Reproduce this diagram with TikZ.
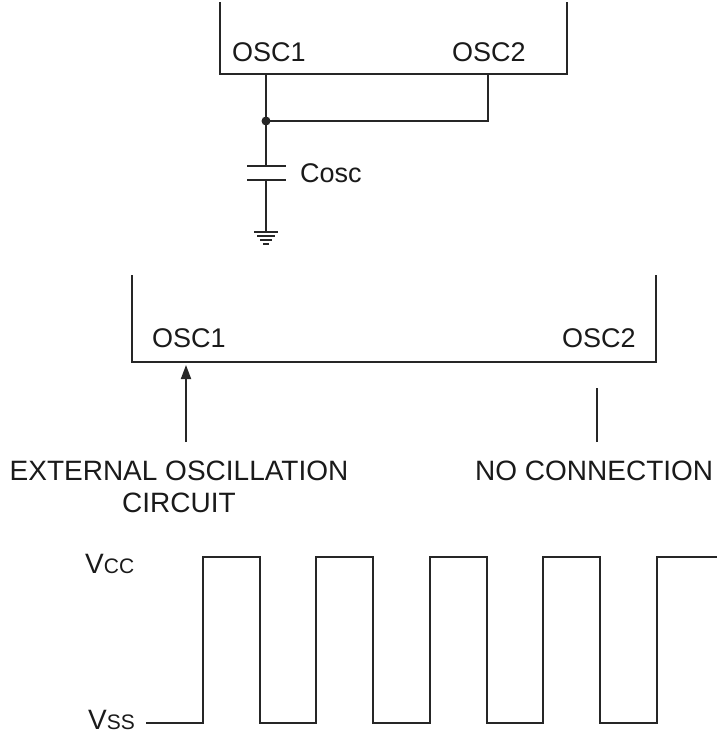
\documentclass[tikz,border=0pt]{standalone}
\usepackage{fontspec}
\setmainfont{Liberation Sans}
\usetikzlibrary{arrows.meta}
\definecolor{ink}{HTML}{262626}
\definecolor{txt}{HTML}{1A1A1A}
\tikzset{
  wire/.style={draw=ink, line width=1.8pt, line join=miter},
  thin wire/.style={draw=ink, line width=1.2pt},
  lbl/.style={text=txt, inner sep=0pt, font=\fontsize{27}{30}\selectfont, anchor=base west},
  biglbl/.style={text=txt, inner sep=0pt, font=\fontsize{28}{32}\selectfont},
  dotnode/.style={circle, fill=ink, inner sep=0pt, minimum size=9pt},
}
\begin{document}
\begin{tikzpicture}[x=1pt,y=-1pt]
\useasboundingbox (0,0) rectangle (717,734);

% ---- top chip ----
\coordinate (tbl) at (220,74);
\coordinate (tbr) at (567,74);
\draw[wire] (220,2) -- (tbl) -- (tbr) -- (567,2);
\node[lbl] (tosc1) at (232,61) {OSC1};
\node[lbl] (tosc2) at (452,61) {OSC2};
\coordinate (p1) at (266,74);
\coordinate (p2) at (488,74);
\node[dotnode] (junc) at (266,121) {};
\coordinate (jr) at (488,121);
\coordinate (capt) at (266,166);
\coordinate (capb) at (266,180);
\coordinate (gnd) at (266,232);
\draw[wire] (p1) -- (junc.center) -- (capt);
\draw[wire] (p2) -- (jr) -- (junc.center);
\draw[wire] (capb) -- (gnd);
\draw[wire] (247,166) -- (286,166);
\draw[wire] (247,180) -- (286,180);
\node[lbl] (cosc) at (300,182) {Cosc};
% ground
\draw[thin wire] (254,232) -- (278,232);
\draw[thin wire] (257,236) -- (275,236);
\draw[thin wire] (260,240) -- (272,240);
\draw[thin wire] (263,244) -- (269,244);

% ---- middle chip ----
\draw[wire] (132,275) -- (132,362) -- (656,362) -- (656,275);
\node[lbl] (mosc1) at (152,347) {OSC1};
\node[lbl] (mosc2) at (562,347) {OSC2};
\coordinate (arrtip) at (186,365);
\coordinate (arrtail) at (186,442);
\draw[wire, -{Triangle[length=14pt,width=10pt]}] (arrtail) -- (arrtip);
\coordinate (nctop) at (597,388);
\coordinate (ncbot) at (597,442);
\draw[wire] (ncbot) -- (nctop);
\node[biglbl, anchor=base] (ext) at (179,480) {EXTERNAL OSCILLATION};
\node[biglbl, anchor=base] (circ) at (179,512) {CIRCUIT};
\node[biglbl, anchor=base west] (nc) at (475,480) {NO CONNECTION};

% ---- waveform ----
\node[biglbl, anchor=base west] (vcc) at (85,573) {V{\fontsize{21}{24}\selectfont CC}};
\node[biglbl, anchor=base west] (vss) at (88,729) {V{\fontsize{21}{24}\selectfont SS}};
\draw[wire] (146,723)
  -- (203,723) -- (203,557) -- (260,557) -- (260,723)
  -- (316,723) -- (316,557) -- (373,557) -- (373,723)
  -- (430,723) -- (430,557) -- (487,557) -- (487,723)
  -- (543,723) -- (543,557) -- (600,557) -- (600,723)
  -- (657,723) -- (657,557) -- (717,557);
\end{tikzpicture}
\end{document}
